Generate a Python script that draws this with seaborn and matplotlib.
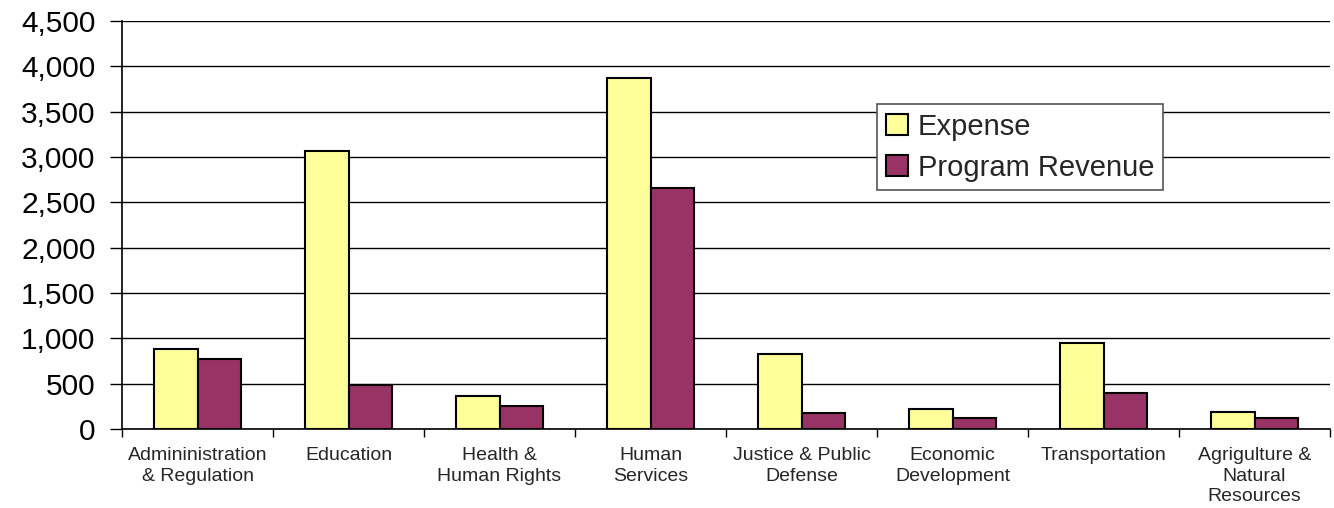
import matplotlib
matplotlib.use("Agg")
import matplotlib.pyplot as plt
import seaborn as sns
import pandas as pd
import numpy as np
from matplotlib.ticker import FuncFormatter, FixedLocator

categories = ["Admininistration\n& Regulation", "Education", "Health &\nHuman Rights",
              "Human\nServices", "Justice & Public\nDefense", "Economic\nDevelopment",
              "Transportation", "Agrigulture &\nNatural\nResources"]
expense = [885, 3067, 363, 3875, 823, 220, 951, 191]
program_revenue = [775, 485, 255, 2663, 180, 118, 393, 121]
series_names = ["Expense", "Program Revenue"]
colors = ["#FFFF99", "#993366"]

df = pd.DataFrame({
    "Category": categories * 2,
    "Series": [series_names[0]] * len(categories) + [series_names[1]] * len(categories),
    "Value": expense + program_revenue,
})

sns.set_style("white")
plt.rcParams["font.family"] = ["Liberation Sans", "DejaVu Sans"]

fig = plt.figure(figsize=(13.34, 5.08), dpi=100)
ax = fig.add_axes([122 / 1334, 79 / 508, 1208 / 1334, 408 / 508])

sns.barplot(data=df, x="Category", y="Value", hue="Series", palette=colors,
            saturation=1, width=0.574, edgecolor="black", linewidth=1.5,
            ax=ax, zorder=3)

ax.set_ylim(0, 4500)
ax.set_xlim(-0.5, len(categories) - 0.5)
ax.set_yticks(np.arange(0, 4501, 500))
ax.yaxis.set_major_formatter(FuncFormatter(lambda v, p: f"{int(v):,}"))
ax.yaxis.grid(True, color="black", linewidth=1.0, zorder=0)
ax.set_axisbelow(True)
ax.tick_params(axis="y", labelsize=21.5, length=9, width=1, direction="out",
               left=True, color="black", pad=10, labelcolor="black")

ax.set_xticks(range(len(categories)))
ax.set_xticklabels(categories, fontsize=14, linespacing=1.27, va="top")
ax.tick_params(axis="x", which="major", length=0, pad=13)
ax.xaxis.set_minor_locator(FixedLocator(np.arange(-0.5, len(categories), 1.0)))
ax.tick_params(axis="x", which="minor", length=6, width=1, color="black", bottom=True)

ax.set_xlabel("")
ax.set_ylabel("")
for s in ["top", "right"]:
    ax.spines[s].set_visible(False)
for s in ["left", "bottom"]:
    ax.spines[s].set_color("black")
    ax.spines[s].set_linewidth(1.2)

handles, labels = ax.get_legend_handles_labels()
leg = ax.legend(handles, labels, loc="upper left", bbox_to_anchor=(0.625, 0.797),
                fontsize=21, frameon=True, fancybox=False, edgecolor="#555555",
                framealpha=1, handlelength=0.75, handleheight=0.7, handletextpad=0.35,
                borderpad=0.3, labelspacing=0.45, borderaxespad=0)
leg.get_frame().set_linewidth(1.2)

fig.savefig("out.png", dpi=100)
